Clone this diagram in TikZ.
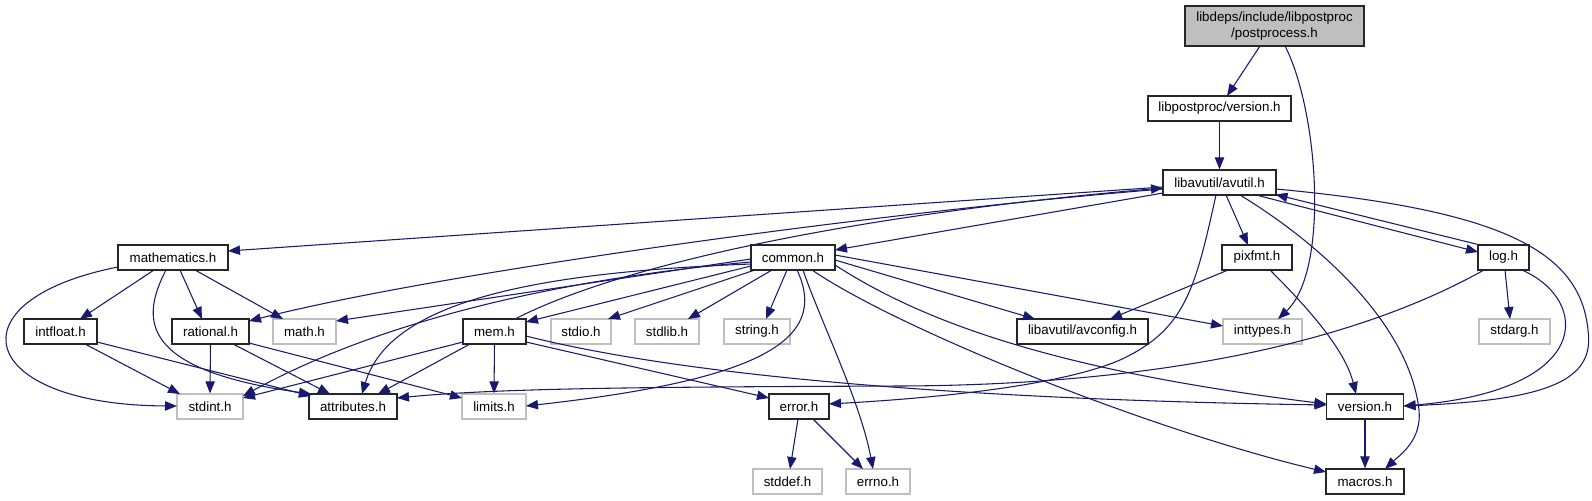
\documentclass[tikz,border=0pt]{standalone}
\usepackage{fontspec}
\setmainfont{Liberation Sans}
\usetikzlibrary{arrows.meta,calc}
\definecolor{edgecol}{HTML}{191970}
\definecolor{rootfill}{HTML}{BFBFBF}
\definecolor{grayline}{HTML}{BFBFBF}
\begin{document}
\begin{tikzpicture}[x=0.75pt,y=-0.75pt,
  box/.style={rectangle, line width=0.9pt, minimum height=18.75pt, inner sep=0pt,
    font=\fontsize{10}{12}\selectfont, text=black, fill=white},
  doc/.style={box, draw=black!85},
  ext/.style={box, draw=grayline},
  rootbox/.style={box, draw=black!85, fill=rootfill, minimum height=30pt, align=center},
  dep/.style={draw=edgecol, line width=0.8pt, -{Triangle[length=9pt,width=7pt]}}]
\useasboundingbox (0,0) rectangle (1592,500);

% nodes
\node[rootbox, minimum width=134.25pt] (pp) at (1274.5,26) {libdeps/include/libpostproc\\/postprocess.h};
\node[doc, minimum width=107.25pt] (ppv) at (1219.5,108.5) {libpostproc/version.h};
\node[doc, minimum width=84.75pt] (avutil) at (1219.5,182.5) {libavutil/avutil.h};
\node[doc, minimum width=82.5pt] (mathem) at (173,257.5) {mathematics.h};
\node[doc, minimum width=63pt] (common) at (793,257.5) {common.h};
\node[doc, minimum width=52.5pt] (pixfmt) at (1257,257.5) {pixfmt.h};
\node[doc, minimum width=38.25pt] (log) at (1503.5,257.5) {log.h};
\node[doc, minimum width=54.75pt] (intfloat) at (60.5,331.5) {intfloat.h};
\node[doc, minimum width=57.75pt] (rational) at (210.5,331.5) {rational.h};
\node[ext, minimum width=47.25pt] (math) at (304.5,331.5) {math.h};
\node[doc, minimum width=47.25pt] (mem) at (494.5,331.5) {mem.h};
\node[ext, minimum width=45pt] (stdio) at (581,331.5) {stdio.h};
\node[ext, minimum width=48pt] (stdlib) at (667,331.5) {stdlib.h};
\node[ext, minimum width=49.5pt] (string) at (757,331.5) {string.h};
\node[doc, minimum width=98.25pt] (avconfig) at (1082.5,331.5) {libavutil/avconfig.h};
\node[ext, minimum width=59.25pt] (inttypes) at (1262.5,331.5) {inttypes.h};
\node[ext, minimum width=53.25pt] (stdarg) at (1514.5,331.5) {stdarg.h};
\node[ext, minimum width=49.5pt] (stdint) at (210,406.5) {stdint.h};
\node[doc, minimum width=66pt] (attributes) at (353,406.5) {attributes.h};
\node[ext, minimum width=48pt] (limits) at (494,406.5) {limits.h};
\node[doc, minimum width=45pt] (error) at (799,406.5) {error.h};
\node[doc, minimum width=57.75pt] (version) at (1365,406.5) {version.h};
\node[ext, minimum width=51.75pt] (stddef) at (787.5,481.5) {stddef.h};
\node[ext, minimum width=48pt] (errno) at (878,481.5) {errno.h};
\node[doc, minimum width=58.5pt] (macros) at (1365,481.5) {macros.h};

% edges
\draw[dep] ($(pp.center)+(-14.5,20)$) -- ($(ppv.center)+(7.5,-12.5)$);
\draw[dep] ($(pp.center)+(10.5,20)$) .. controls (1318,110) and (1330,270) .. ($(inttypes.center)+(15.5,-12.5)$);
\draw[dep] (ppv.south) -- (avutil.north);

\draw[dep] ($(avutil.center)+(-56.5,10.5)$) -- ($(common.center)+(42,-7.5)$);
\draw[dep] ($(avutil.center)+(-3.5,12.5)$) .. controls (1195,290) and (1185,330) .. (1120,360) .. controls (1050,390) and (900,400) .. ($(error.center)+(30,-2.5)$);
\draw[dep] ($(avutil.center)+(56.5,6.5)$) .. controls (1500,210) and (1580,250) .. (1588,330) .. controls (1595,380) and (1550,400) .. ($(version.center)+(38.5,-0.5)$);
\draw[dep] ($(avutil.center)+(20.5,12.5)$) .. controls (1330,250) and (1410,330) .. (1419,410) .. controls (1422,440) and (1400,455) .. ($(macros.center)+(20,-12.5)$);
\draw[dep] ($(avutil.center)+(-56.5,4.5)$) -- ($(mathem.center)+(55,-6.5)$);
\draw[dep] ($(avutil.center)+(-56.5,6.5)$) .. controls (900,210) and (450,270) .. ($(rational.center)+(38.5,-10.5)$);
\draw[dep] ($(avutil.center)+(36.5,12.5)$) -- ($(log.center)+(-25.5,-5.5)$);
\draw[dep] ($(log.center)+(-23.5,-12.5)$) -- ($(avutil.center)+(56,12)$);
\draw[dep] ($(avutil.center)+(6.5,12.5)$) -- ($(pixfmt.center)+(-9,-12.5)$);

\draw[dep] ($(common.center)+(10,12.5)$) .. controls (820,320) and (860,400) .. ($(errno.center)+(-5,-12.5)$);
\draw[dep] ($(common.center)+(42,-2.5)$) -- ($(inttypes.center)+(-39.5,-5.5)$);
\draw[dep] ($(common.center)+(4,12.5)$) .. controls (830,340) and (760,380) .. ($(limits.center)+(32,-0.5)$);
\draw[dep] ($(common.center)+(-42,1.5)$) -- ($(math.center)+(31.5,-10.5)$);
\draw[dep] ($(common.center)+(-42,4.5)$) .. controls (600,275) and (400,310) .. ($(stdint.center)+(33,-10.5)$);
\draw[dep] ($(common.center)+(-38,12.5)$) -- ($(stdio.center)+(27,-12.5)$);
\draw[dep] ($(common.center)+(-21,12.5)$) -- ($(stdlib.center)+(21,-12.5)$);
\draw[dep] ($(common.center)+(-6,12.5)$) -- ($(string.center)+(9,-12.5)$);
\draw[dep] ($(common.center)+(-42,6.5)$) .. controls (540,272) and (390,300) .. ($(attributes.center)+(9,-12.5)$);
\draw[dep] ($(common.center)+(19,12.5)$) .. controls (900,330) and (1150,430) .. ($(macros.center)+(-39,-9.5)$);
\draw[dep] ($(common.center)+(42,7.5)$) .. controls (920,320) and (1050,370) .. ($(version.center)+(-38.5,-2.5)$);
\draw[dep] ($(common.center)+(42,2.5)$) -- ($(avconfig.center)+(-47.5,-12.5)$);
\draw[dep] ($(common.center)+(-42,8.5)$) -- ($(mem.center)+(31.5,-9.5)$);

\draw[dep] (mem.south) -- (limits.north);
\draw[dep] ($(mem.center)+(-31.5,10.5)$) -- ($(stdint.center)+(33,-8.5)$);
\draw[dep] ($(mem.center)+(-24.5,12.5)$) -- ($(attributes.center)+(25,-12.5)$);
\draw[dep] ($(mem.center)+(31.5,10.5)$) -- ($(error.center)+(-30,-8.5)$);
\draw[dep] ($(mem.center)+(20.5,-12.5)$) .. controls (620,265) and (850,215) .. ($(avutil.center)+(-56.5,5.5)$);
\draw[dep] ($(mem.center)+(31.5,4.5)$) .. controls (700,380) and (1000,400) .. ($(version.center)+(-38.5,-1.5)$);

\draw[dep] ($(error.center)+(14,12.5)$) -- ($(errno.center)+(-15,-12.5)$);
\draw[dep] ($(error.center)+(-1,12.5)$) -- ($(stddef.center)+(2.5,-12.5)$);

\draw[dep] ($(mathem.center)+(-55,9.5)$) .. controls (-50,300) and (-25,405) .. ($(stdint.center)+(-33,-0.5)$);
\draw[dep] ($(mathem.center)+(22,12.5)$) -- ($(math.center)+(-21.5,-12.5)$);
\draw[dep] ($(mathem.center)+(-7,12.5)$) .. controls (140,320) and (140,370) .. ($(attributes.center)+(-42,-12.5)$);
\draw[dep] ($(mathem.center)+(7,12.5)$) -- ($(rational.center)+(-8.5,-12.5)$);
\draw[dep] ($(mathem.center)+(-19,12.5)$) -- ($(intfloat.center)+(19.5,-12.5)$);

\draw[dep] (rational.south) -- (stdint.north);
\draw[dep] ($(rational.center)+(38.5,11.5)$) -- ($(limits.center)+(-32,-8.5)$);
\draw[dep] ($(rational.center)+(22.5,12.5)$) -- ($(attributes.center)+(-23,-12.5)$);

\draw[dep] ($(intfloat.center)+(24.5,12.5)$) -- ($(stdint.center)+(-30,-12.5)$);
\draw[dep] ($(intfloat.center)+(36.5,10.5)$) -- ($(attributes.center)+(-42,-10.5)$);

\draw[dep] ($(log.center)+(1.5,12.5)$) -- ($(stdarg.center)+(-4.5,-12.5)$);
\draw[dep] ($(log.center)+(-19.5,12.5)$) .. controls (1350,345) and (1150,385) .. (900,386) .. controls (650,387) and (500,388) .. ($(attributes.center)+(44,-8.5)$);
\draw[dep] ($(log.center)+(18.5,12.5)$) .. controls (1590,300) and (1595,390) .. ($(version.center)+(38.5,-0.5)$);

\draw[dep] ($(pixfmt.center)+(-29,12.5)$) -- ($(avconfig.center)+(27.5,-12.5)$);
\draw[dep] ($(pixfmt.center)+(13,12.5)$) .. controls (1310,310) and (1345,350) .. ($(version.center)+(-9,-12.5)$);
\draw[dep] (version.south) -- (macros.north);
\end{tikzpicture}
\end{document}
